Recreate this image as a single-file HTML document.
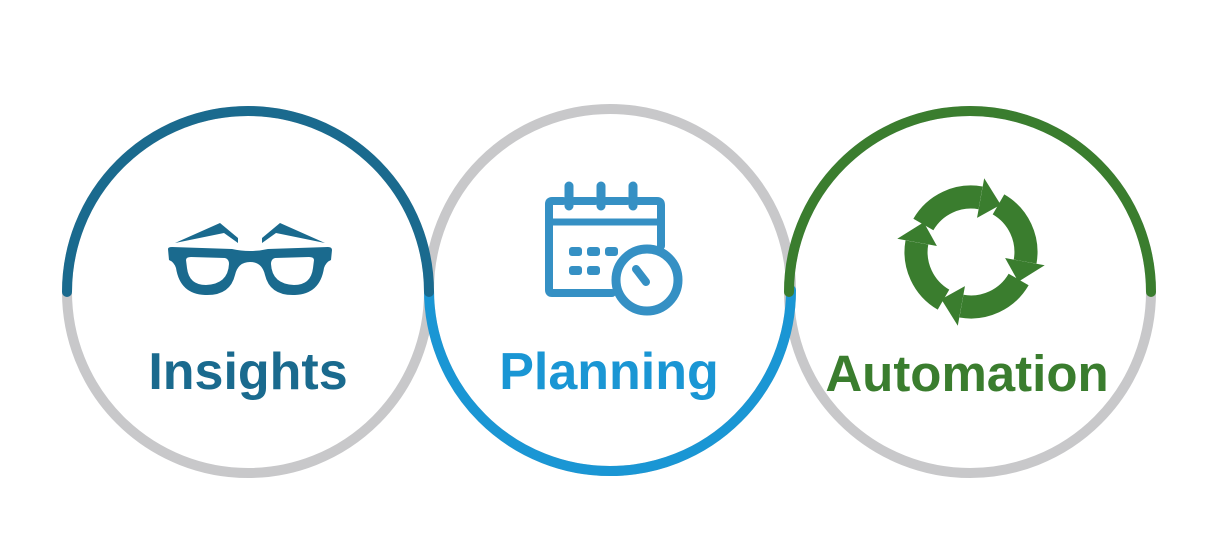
<!DOCTYPE html>
<html><head><style>
html,body{margin:0;padding:0;background:#fff;}
svg{display:block}
text{font-family:"Liberation Sans",sans-serif;font-weight:bold;}
</style></head><body>
<svg width="1222" height="552" viewBox="0 0 1222 552">
<g fill="none" stroke="#c8c8ca" stroke-width="10">
<circle cx="248" cy="292" r="181"/>
<circle cx="610" cy="290" r="181"/>
<circle cx="970" cy="292" r="181"/>
</g>
<path d="M429 290 A181 181 0 0 0 791 290" fill="none" stroke="#1a96d4" stroke-width="10" stroke-linecap="round"/>
<path d="M67 292 A181 181 0 0 1 429 292" fill="none" stroke="#1a6a8e" stroke-width="10" stroke-linecap="round"/>
<path d="M789 292 A181 181 0 0 1 1151 292" fill="none" stroke="#3a7d2e" stroke-width="10" stroke-linecap="round"/>

<!-- glasses -->
<g fill="#1a6a8e">
<path d="M175 243 L220 223 L238 238 L238 243 L224 233 Z"/>
<path d="M325 243 L280 223 L262 238 L262 243 L276 233 Z"/>
<path fill-rule="evenodd" d="M168 249 Q168 247 172 247 L232 249 Q250 253 268 249 L328 247 Q332 247 332 250 L331 260 Q326 262 324 268 Q320 294 295 295 Q270 296 265 275 Q262 262 250 262 Q238 262 235 275 Q230 296 205 295 Q180 294 176 268 Q174 262 169 260 Z
M186 260 Q186 257 191 257 L225 258 Q229 259 229 264 Q228 284 206 285 Q189 285 187 268 Z
M314 260 Q314 257 309 257 L275 258 Q271 259 271 264 Q272 284 294 285 Q311 285 313 268 Z"/>
</g>

<!-- calendar -->
<g stroke="#3590c4" fill="none" stroke-linecap="round">
<path d="M563 201 H552 Q549 201 549 204 V290 Q549 293 552 293 H612" stroke-width="8"/>
<path d="M574 201 H595 M606 201 H627 M638 201 H657 Q661 201 661 205 V246" stroke-width="8"/>
<path d="M551 222 H659" stroke-width="7"/>
<path d="M569 186 V206 M601 186 V206 M633 186 V206" stroke-width="9"/>
<circle cx="647" cy="280" r="31" stroke-width="9" fill="#fff"/>
<path d="M636 269 L646 282" stroke-width="8"/>
</g>
<g fill="#3590c4">
<rect x="569" y="247" width="13" height="9" rx="3"/><rect x="587" y="247" width="13" height="9" rx="3"/><rect x="605" y="247" width="13" height="9" rx="3"/>
<rect x="569" y="266" width="13" height="9" rx="3"/><rect x="587" y="266" width="13" height="9" rx="3"/>
</g>

<!-- recycle -->
<g transform="translate(971,252) scale(1.1)" fill="#3a7d2e">
<g id="a"><path d="M-43.3 -25 A50 50 0 0 1 8.7 -49.2" fill="none" stroke="#3a7d2e" stroke-width="21"/><path d="M5.5 -31 L12 -67 L27 -43 Z"/></g>
<use href="#a" transform="rotate(90)"/>
<use href="#a" transform="rotate(180)"/>
<use href="#a" transform="rotate(270)"/>
</g>

<text x="248" y="389" text-anchor="middle" font-size="52" fill="#1a6a8e">Insights</text>
<text x="609" y="389" text-anchor="middle" font-size="52" fill="#1a96d4">Planning</text>
<text x="967" y="391" text-anchor="middle" font-size="51" fill="#3a7d2e">Automation</text>
</svg>
</body></html>
